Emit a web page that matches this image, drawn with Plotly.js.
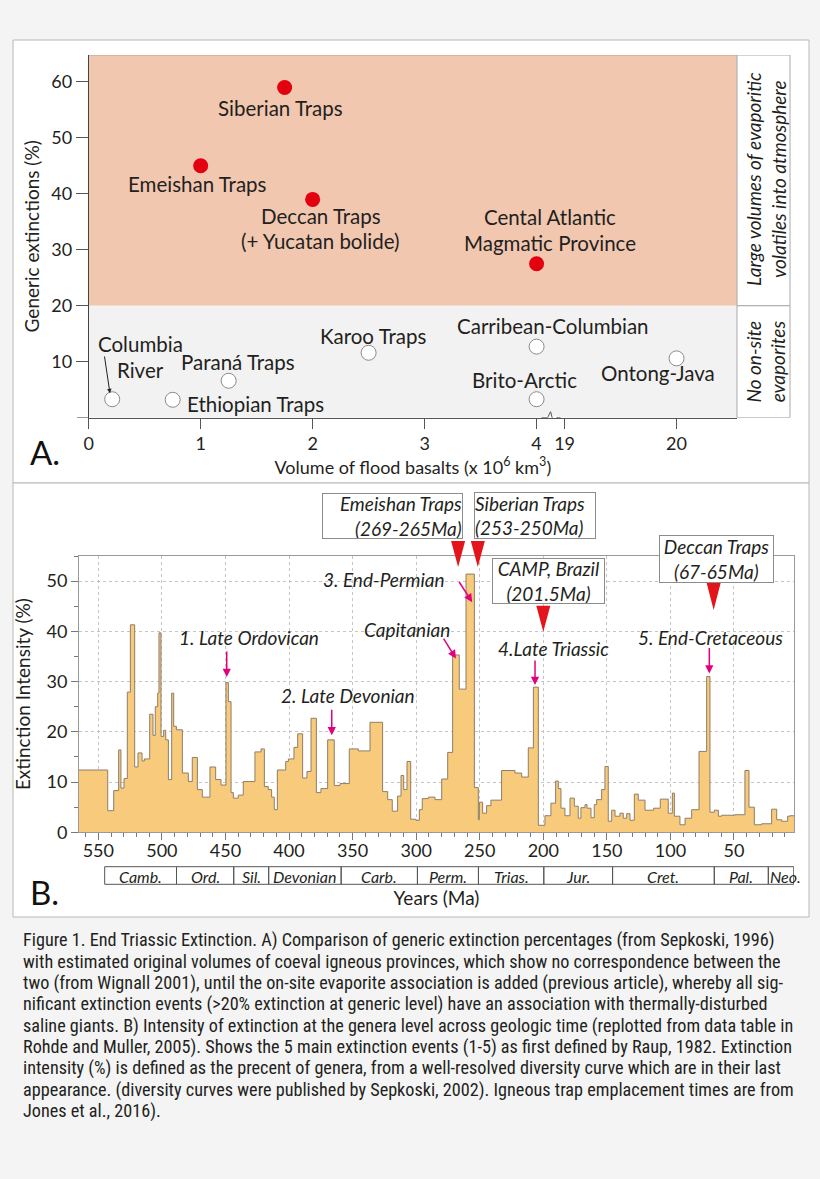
<!DOCTYPE html>
<html><head><meta charset="utf-8">
<script src="https://cdn.plot.ly/plotly-3.0.1.min.js"></script>
<style>html,body{margin:0;padding:0;background:#f4f4f4;} #chart{width:820px;height:1179px;}</style>
</head><body><div id="chart"></div>
<script>
// ---------------- Panel A data ----------------
const evapNames = ['Siberian Traps', 'Emeishan Traps', 'Deccan Traps', 'Cental Atlantic Magmatic Province'];
const evapVolume = [1.75, 1.0, 2.0, 4.0];          // x 10^6 km3
const evapExtinction = [59, 45, 39, 27.5];         // generic extinctions %
const noEvapNames = ['Columbia River', 'Ethiopian Traps', 'Paraná Traps', 'Karoo Traps', 'Carribean-Columbian', 'Brito-Arctic', 'Ontong-Java'];
const noEvapVolume = [0.21, 0.75, 1.25, 2.5, 4.0, 4.0, 20];
const noEvapExtinction = [3.3, 3.2, 6.6, 11.6, 12.7, 3.3, 10.6];
const volumeTicks = [0, 1, 2, 3, 4, 19, 20];
const extinctionTicks = [10, 20, 30, 40, 50, 60];

// ---------------- Panel B data ----------------
const stageStartMa = [565.2,542.6,537.9,534.0,532.2,529.8,527.2,524.8,521.4,518.8,
515.6,513.8,509.6,507.0,505.2,503.3,502.3,500.7,498.6,497.0,
494.9,492.3,490.7,488.6,483.9,479.2,476.1,472.1,468.2,462.2,
457.7,453.5,449.6,447.7,445.6,443.8,439.9,436.0,426.8,422.0,
419.4,416.3,413.7,411.6,409.2,402.6,400.5,396.1,393.2,389.3,
385.9,382.7,378.5,374.9,369.6,364.4,359.9,352.6,345.5,336.3,
326.4,322.4,318.8,314.6,311.9,309.8,307.2,304.3,300.1,297.5,
295.2,290.4,285.2,279.9,275.2,271.3,266.1,260.8,254.2,251.1,
250.3,247.7,244.6,241.2,232.8,222.3,217.0,211.8,207.8,203.9,
198.7,194.0,190.3,188.2,186.1,183.0,179.0,175.6,172.5,170.4,
167.2,165.6,162.5,159.9,158.0,154.1,151.5,148.9,146.2,143.6,
139.7,137.1,134.4,131.8,128.4,125.3,120.0,113.2,108.0,101.7,
98.5,96.9,92.5,88.5,83.3,77.5,71.5,68.9,65.5,62.3,
59.7,49.2,41.4,38.2,34.0,28.2,20.4,16.4,12.5,7.8,
6.0];
const extinctionIntensity = [12.4,4.3,8.3,16.4,8.8,10.7,27.9,41.3,13.0,15.8,
14.2,14.6,23.5,19.3,25.0,27.7,39.7,19.1,20.3,18.4,
10.5,27.7,21.1,20.4,11.8,10.1,14.9,8.5,7.0,13.0,
10.5,9.4,29.8,26.0,7.9,6.8,7.4,10.1,16.0,16.6,
9.1,8.5,7.0,4.5,12.4,14.1,14.6,16.9,19.6,10.8,
12.1,22.7,7.9,8.7,18.4,9.3,9.7,16.6,16.2,21.9,
8.1,6.5,4.2,7.2,11.3,8.5,14.1,2.6,2.4,4.5,
6.7,7.0,6.5,10.6,15.9,35.3,28.5,51.4,8.9,2.5,
6.0,3.8,5.3,6.4,12.3,11.8,11.0,16.8,28.9,1.4,
3.3,5.8,10.2,8.7,4.8,3.3,6.8,5.2,2.8,4.9,
5.5,4.8,2.9,5.5,6.5,8.5,13.1,2.2,4.4,3.2,
3.8,2.8,3.7,2.4,7.6,6.4,4.4,4.8,6.6,3.8,
7.8,3.2,1.5,2.8,4.5,16.1,31.0,4.0,4.4,3.2,
3.4,3.5,12.3,5.0,1.5,1.7,4.6,2.5,2.2,3.2,
3.3];
const seriesEndMa = 2.6;
const periodNames = ['Camb.', 'Ord.', 'Sil.', 'Devonian', 'Carb.', 'Perm.', 'Trias.', 'Jur.', 'Cret.', 'Pal.', 'Neo.'];
const periodBoundsMa = [545, 488.5, 443.5, 416, 359, 299, 251, 199.6, 145.5, 65.5, 23, 3];
const eventNames = ['1. Late Ordovican', '2. Late Devonian', 'Capitanian', '3. End-Permian', '4.Late Triassic', '5. End-Cretaceous'];
const eventAgeMa = [449, 366.4, 268.7, 255.9, 206.5, 69.4];
const trapNames = ['Emeishan Traps', 'Siberian Traps', 'CAMP, Brazil', 'Deccan Traps'];
const trapAgeLabels = ['(269-265Ma)', '(253-250Ma)', '(201.5Ma)', '(67-65Ma)'];
const trapMidMa = [267, 251.5, 200, 66];

const captionLines = [
 'Figure 1. End Triassic Extinction. A) Comparison of generic extinction percentages (from Sepkoski, 1996)',
 'with estimated original volumes of coeval igneous provinces, which show no correspondence between the',
 'two (from Wignall 2001), until the on-site evaporite association is added (previous article), whereby all sig-',
 'nificant extinction events (>20% extinction at generic level) have an association with thermally-disturbed',
 'saline giants. B) Intensity of extinction at the genera level across geologic time (replotted from data table in',
 'Rohde and Muller, 2005). Shows the 5 main extinction events (1-5) as first defined by Raup, 1982. Extinction',
 'intensity (%) is defined as the precent of genera, from a well-resolved diversity curve which are in their last',
 'appearance. (diversity curves were published by Sepkoski, 2002). Igneous trap emplacement times are from',
 'Jones et al., 2016).'
];

// ---------------- helpers ----------------
const W = 820, H = 1179;
const px = v => v / W;
const py = v => 1 - v / H;
const brk = v => (v > 4 ? v - 14.75 : v);   // broken volume axis (4 | 19)
const FONT = 'Lato, "Open Sans", sans-serif';
const CAPFONT = '"Roboto Condensed", "Liberation Sans Narrow", Lato, sans-serif';
const TXT = '#231f20';
const AX_MAX = 5.79, AY_MAX = 64.8;

const traces = [];
traces.push({
  x: noEvapVolume.map(brk), y: noEvapExtinction, text: noEvapNames,
  type: 'scatter', mode: 'markers', xaxis: 'x', yaxis: 'y', hoverinfo: 'text',
  marker: {size: 15, color: '#ffffff', line: {color: '#8a8a8a', width: 1}}
});
traces.push({
  x: evapVolume.map(brk), y: evapExtinction, text: evapNames,
  type: 'scatter', mode: 'markers', xaxis: 'x', yaxis: 'y', hoverinfo: 'text',
  marker: {size: 15, color: '#e3000f', line: {width: 0}}
});
traces.push({
  x: stageStartMa.concat([seriesEndMa]),
  y: extinctionIntensity.concat([extinctionIntensity[extinctionIntensity.length - 1]]),
  type: 'scatter', mode: 'lines', xaxis: 'x2', yaxis: 'y2',
  line: {shape: 'hv', color: '#8f7d66', width: 1},
  fill: 'tozeroy', fillcolor: '#f8cb7c', hoverinfo: 'x+y'
});

const shapes = [];
// white figure panels
shapes.push({type: 'rect', xref: 'paper', yref: 'paper', x0: px(13), x1: px(809), y0: py(483), y1: py(40), fillcolor: '#ffffff', line: {color: '#b8b8b8', width: 1}, layer: 'below'});
shapes.push({type: 'rect', xref: 'paper', yref: 'paper', x0: px(13), x1: px(809), y0: py(917), y1: py(483), fillcolor: '#ffffff', line: {color: '#b8b8b8', width: 1}, layer: 'below'});
// panel A zones
shapes.push({type: 'rect', xref: 'x', yref: 'y', x0: 0, x1: AX_MAX, y0: 20, y1: AY_MAX, fillcolor: '#f2c7b0', line: {width: 0}, layer: 'below'});
shapes.push({type: 'rect', xref: 'x', yref: 'y', x0: 0, x1: AX_MAX, y0: 0, y1: 20, fillcolor: '#f2f2f2', line: {width: 0}, layer: 'below'});
shapes.push({type: 'line', xref: 'x', yref: 'y', x0: 0, x1: AX_MAX, y0: AY_MAX, y1: AY_MAX, line: {color: '#a8a8a8', width: 1}, layer: 'below'});
// side boxes
shapes.push({type: 'rect', xref: 'paper', yref: 'y', x0: px(737), x1: px(790), y0: 20, y1: AY_MAX, fillcolor: '#ffffff', line: {color: '#a8a8a8', width: 1}});
shapes.push({type: 'rect', xref: 'paper', yref: 'y', x0: px(737), x1: px(790), y0: 0, y1: 20, fillcolor: '#ffffff', line: {color: '#a8a8a8', width: 1}});
// axis extension left of origin
shapes.push({type: 'line', xref: 'paper', yref: 'y', x0: px(77), x1: px(89), y0: 0, y1: 0, line: {color: '#555', width: 1}});
// axis break marks
shapes.push({type: 'rect', xref: 'x', yref: 'y', xsizemode: 'pixel', ysizemode: 'pixel', xanchor: 4.125, yanchor: 0, x0: -6, x1: 6, y0: -2, y1: 2, fillcolor: '#ffffff', line: {width: 0}, layer: 'above'});
shapes.push({type: 'path', xref: 'x', yref: 'y', xsizemode: 'pixel', ysizemode: 'pixel', xanchor: 4.125, yanchor: 0, path: 'M-9,0 L-3,0 L0,6 L3,-5 L6,0 L10,0', line: {color: '#555', width: 1}, layer: 'above'});
// geologic period boxes
for (let i = 0; i < periodNames.length; i++) {
  shapes.push({type: 'rect', xref: 'x2', yref: 'paper', x0: periodBoundsMa[i], x1: periodBoundsMa[i + 1], y0: py(884.3), y1: py(866.7), line: {color: '#555', width: 1}, fillcolor: 'rgba(0,0,0,0)'});
}
// trap emplacement triangles (tip pixel rows)
const triTipPx = [567, 567, 631.7, 610];
const triH = [26, 26, 26, 27];
trapMidMa.forEach((ma, i) => {
  shapes.push({type: 'path', xref: 'x2', yref: 'paper', xsizemode: 'pixel', ysizemode: 'pixel', xanchor: ma, yanchor: py(triTipPx[i]),
    path: `M-7,${triH[i]} L7,${triH[i]} L0,0 Z`, fillcolor: '#e3141b', line: {width: 0}, layer: 'above'});
});

const ann = [];
const lab = (text, x, y, size, extra) => Object.assign({text, x, y, xref: 'x', yref: 'y', showarrow: false, font: {family: FONT, size: size || 20.5, color: TXT}, xanchor: 'center', yanchor: 'middle'}, extra || {});
// Panel A point labels
ann.push(lab('Siberian Traps', 1.717, 55.4));
ann.push(lab('Emeishan Traps', 0.976, 41.7));
ann.push(lab('Deccan Traps', 2.071, 36.1));
ann.push(lab('(+ Yucatan bolide)', 2.074, 31.6));
ann.push(lab('Cental Atlantic', 4.119, 35.8));
ann.push(lab('Magmatic Province', 4.119, 31.3));
ann.push(lab('Columbia', 0.459, 13.2));
ann.push(lab('River', 0.459, 8.5));
ann.push(lab('Paraná Traps', 1.329, 10.0));
ann.push(lab('Ethiopian Traps', 1.489, 2.45));
ann.push(lab('Karoo Traps', 2.538, 14.6));
ann.push(lab('Carribean-Columbian', 4.146, 16.4));
ann.push(lab('Brito-Arctic', 3.891, 6.7));
ann.push(lab('Ontong-Java', 5.083, 7.9));
ann.push({text: '', x: 0.19, y: 4.36, xref: 'x', yref: 'y', showarrow: true, ax: -5.7, ay: -38.3, arrowhead: 2, arrowsize: 0.9, arrowwidth: 1, arrowcolor: '#222'});
// side box texts
ann.push({text: '<i>Large volumes of evaporitic<br>volatiles into atmosphere</i>', xref: 'paper', yref: 'paper', x: px(765.5), y: py(179.5), xanchor: 'center', yanchor: 'middle', textangle: -90, showarrow: false, font: {family: FONT, size: 19, color: TXT}, align: 'center'});
ann.push({text: '<i>No on-site<br>evaporites</i>', xref: 'paper', yref: 'paper', x: px(765.5), y: py(362), xanchor: 'center', yanchor: 'middle', textangle: -90, showarrow: false, font: {family: FONT, size: 19, color: TXT}, align: 'center'});
// panel letters
ann.push({text: 'A.', xref: 'paper', yref: 'paper', x: px(28), y: py(452), xanchor: 'left', yanchor: 'middle', showarrow: false, font: {family: FONT, size: 33, color: '#111'}});
ann.push({text: 'B.', xref: 'paper', yref: 'paper', x: px(28), y: py(892), xanchor: 'left', yanchor: 'middle', showarrow: false, font: {family: FONT, size: 33, color: '#111'}});

// Panel B event labels + arrows
const evLabX = [431.1, 354.0, 307.6, 325.5, 191.7, 68.1];
const evLabY = [38.8, 27.3, 40.4, 50.4, 36.6, 38.8];
const evTipY = [30.9, 19.3, 34.6, 45.8, 29.3, 31.6];
const evAx = [0, 0, -13.3, -14, 0, 0];
const evAy = [-27, -27, -21.3, -21.7, -26, -27];
eventNames.forEach((nm, i) => {
  ann.push({text: '<i>' + nm + '</i>', x: evLabX[i], y: evLabY[i], xref: 'x2', yref: 'y2', xanchor: 'center', yanchor: 'middle', showarrow: false, font: {family: FONT, size: 19, color: TXT}});
  ann.push({text: '', x: eventAgeMa[i], y: evTipY[i], xref: 'x2', yref: 'y2', showarrow: true, ax: evAx[i], ay: evAy[i], arrowhead: 2, arrowsize: 1.1, arrowwidth: 1.5, arrowcolor: '#e4007c'});
});
// trap boxes
const boxCx = [392, 534.5, 548, 716], boxCy = [516, 515, 581, 558.5], boxW = [139, 120, 111, 113], boxH = [44, 45, 44, 46];
const boxAlign = ['right', 'left', 'center', 'center'];
trapNames.forEach((nm, i) => {
  ann.push({text: '<i>' + nm + '<br>' + trapAgeLabels[i] + '</i>', xref: 'paper', yref: 'paper', x: px(boxCx[i]), y: py(boxCy[i]), xanchor: 'center', yanchor: 'middle', showarrow: false,
    width: boxW[i], height: boxH[i], borderpad: 0, bordercolor: '#8c8c8c', borderwidth: 1, bgcolor: '#ffffff', align: boxAlign[i],
    font: {family: FONT, size: 19, color: TXT}});
});
// period labels
periodNames.forEach((nm, i) => {
  const last = i === periodNames.length - 1;
  ann.push({text: '<i>' + nm + '</i>', xref: 'x2', yref: 'paper', x: last ? periodBoundsMa[i] : (periodBoundsMa[i] + periodBoundsMa[i + 1]) / 2,
    xanchor: last ? 'left' : 'center', yanchor: 'middle', y: py(876), showarrow: false, font: {family: FONT, size: 16, color: TXT}});
});
// caption
captionLines.forEach((ln, i) => {
  ann.push({text: ln, xref: 'paper', yref: 'paper', x: px(21), y: py(940 + i * 21.4), xanchor: 'left', yanchor: 'middle', showarrow: false,
    font: {family: CAPFONT, size: 18.2, color: TXT}});
});

const axFont = {family: FONT, size: 18, color: TXT};
const layout = {
  width: W, height: H, margin: {l: 0, r: 0, t: 0, b: 0},
  paper_bgcolor: '#f4f4f4', plot_bgcolor: 'rgba(0,0,0,0)', showlegend: false,
  font: {family: FONT, color: TXT},
  xaxis: {domain: [px(88.7), px(737)], range: [0, AX_MAX], tickvals: volumeTicks.map(brk), ticktext: volumeTicks.map(String),
    ticks: 'outside', ticklen: 10, tickcolor: '#555', showline: true, linecolor: '#555', zeroline: false, showgrid: false,
    tickfont: axFont, automargin: false, anchor: 'y',
    title: {text: 'Volume of flood basalts (x 10<sup>6</sup> km<sup>3</sup>)', font: {family: FONT, size: 18, color: TXT}, standoff: 4}},
  yaxis: {domain: [py(417.7), py(55)], range: [0, AY_MAX], tickvals: extinctionTicks, ticks: 'outside', ticklen: 12, tickcolor: '#555',
    showline: true, linecolor: '#444', zeroline: false, showgrid: false, tickfont: axFont, automargin: false, anchor: 'x',
    title: {text: 'Generic extinctions (%)', font: {family: FONT, size: 19, color: TXT}, standoff: 6}},
  xaxis2: {domain: [px(79), px(794)], range: [565.2, 2.8], tick0: 0, dtick: 50, ticks: 'outside', ticklen: 7, tickcolor: '#777',
    minor: {dtick: 10, tick0: 0, ticks: 'outside', ticklen: 4, tickcolor: '#777', showgrid: false},
    showgrid: true, gridcolor: '#c4c4c4', griddash: 'dot', gridwidth: 1, showline: true, mirror: true, linecolor: '#9a9a9a', zeroline: false,
    tickfont: axFont, ticklabelstandoff: -5, automargin: false, anchor: 'y2',
    title: {text: 'Years (Ma)', font: {family: FONT, size: 19, color: TXT}, standoff: 31}},
  yaxis2: {domain: [py(832.3), py(556)], range: [0, 55], tick0: 0, dtick: 10, ticks: 'outside', ticklen: 7, tickcolor: '#777',
    minor: {dtick: 5, tick0: 0, ticks: 'outside', ticklen: 4, tickcolor: '#777', showgrid: false},
    showgrid: true, gridcolor: '#c4c4c4', griddash: 'dot', gridwidth: 1, showline: true, mirror: true, linecolor: '#9a9a9a', zeroline: false,
    tickfont: axFont, automargin: false, anchor: 'x2',
    title: {text: 'Extinction Intensity (%)', font: {family: FONT, size: 19, color: TXT}, standoff: 10}},
  shapes: shapes, annotations: ann
};
Plotly.newPlot('chart', traces, layout, {displayModeBar: false, staticPlot: true});
</script></body></html>
